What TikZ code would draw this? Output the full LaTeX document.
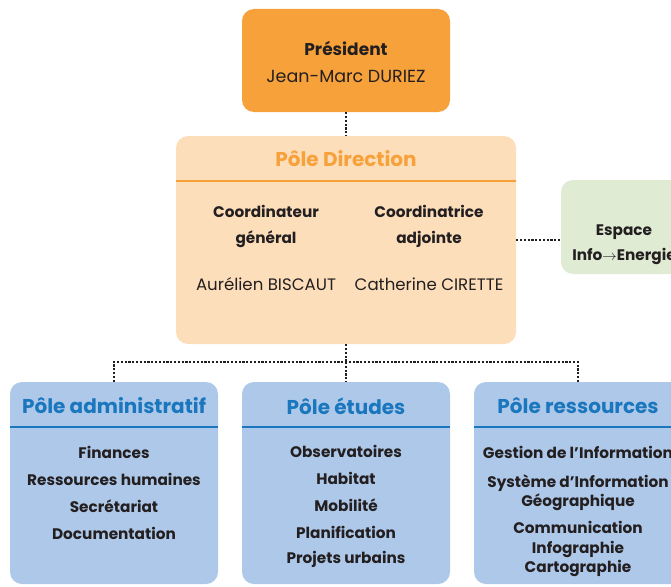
\documentclass[tikz,border=0pt]{standalone}
\usepackage{fontspec}
\setmainfont{Poppins}
\usetikzlibrary{calc}
\definecolor{presorange}{HTML}{F7A13B}
\definecolor{dirfill}{HTML}{FDDEBB}
\definecolor{polefill}{HTML}{AEC8E9}
\definecolor{poleblue}{HTML}{1B77BD}
\definecolor{espfill}{HTML}{DFEBD2}
\definecolor{txtdark}{HTML}{231F20}
\newcommand{\itemline}[4]{\node[font=\fontsize{15.3}{19.5}\selectfont\bfseries, text=txtdark, align=center] (#1) at ( #2 , #3 ) {#4};}
\newcommand{\poletitle}[5]{\node[font=\fontsize{20}{20}\selectfont\bfseries, text=#4] (#1) at ( #2 , #3 ) {#5};}
\tikzset{
  orgbox/.style={rounded corners=12pt, inner sep=0pt, draw=none},
  link/.style={line width=2.4pt, dash pattern=on 2.2pt off 1.6pt, txtdark},
  sepline/.style={line width=2.6pt},
  namefont/.style={font=\fontsize{16.6}{17}\selectfont, text=txtdark},
}

\begin{document}
\begin{tikzpicture}[x=1pt, y=-1pt]

        \useasboundingbox (0,0) rectangle (671,586);

        % boxes
        \node[orgbox, fill=presorange, minimum width=208, minimum height=103] (pres) at (346,60.5) {};
        \node[orgbox, fill=dirfill, minimum width=340, minimum height=208] (dir) at (346,240) {};
        \node[orgbox, fill=espfill, minimum width=126, minimum height=94] (esp) at (624,227) {};
        \node[orgbox, fill=polefill, minimum width=208, minimum height=202] (adm) at (114,483) {};
        \node[orgbox, fill=polefill, minimum width=208, minimum height=202] (etu) at (346,483) {};
        \node[orgbox, fill=polefill, minimum width=208, minimum height=202] (res) at (578,483) {};

        % title lines
        \draw[sepline, presorange] ($(dir.west)+(0,-59)$) -- ($(dir.east)+(0,-59)$);
        \draw[sepline, poleblue] ($(adm.west)+(0,-56)$) -- ($(adm.east)+(0,-56)$);
        \draw[sepline, poleblue] ($(etu.west)+(0,-56)$) -- ($(etu.east)+(0,-56)$);
        \draw[sepline, poleblue] ($(res.west)+(0,-56)$) -- ($(res.east)+(0,-56)$);

        % links
        \coordinate (hub) at (346,362);
        \draw[link] (pres.south) -- (dir.north);
        \draw[link] (dir.east) -- (dir.east -| esp.west);
        \draw[link] (dir.south) -- (hub);
        \draw[link] (hub) -- (etu.north);
        \draw[link] (adm.north) |- (hub) -| (res.north);

        % president
        \node[font=\fontsize{17}{17}\selectfont\bfseries, text=txtdark] (prestitle) at (346,48) {Président};
        \node[namefont, font=\fontsize{17.5}{17}\selectfont] (presname) at (346,76) {Jean-Marc DURIEZ};

        % direction
        \poletitle{dirtitle}{346}{158.5}{presorange}{Pôle Direction}
        \itemline{coordgen}{266}{226}{Coordinateur\\[6.5pt]général}
        \itemline{coordadj}{429}{226}{Coordinatrice\\[6.5pt]adjointe}
        \node[namefont] (coordgenname) at (266,284) {Aurélien BISCAUT};
        \node[namefont] (coordadjname) at (429,284) {Catherine CIRETTE};

        % espace
        \itemline{espace}{624}{244.5}{Espace\\[5pt]Info$\rightarrow$Energie}

        % poles
        \poletitle{admtitle}{114}{406}{poleblue}{Pôle administratif}
        \poletitle{etutitle}{346}{406}{poleblue}{Pôle études}
        \poletitle{restitle}{578}{406}{poleblue}{Pôle ressources}

        \itemline{adm1}{114}{452}{Finances}
        \itemline{adm2}{114}{479}{Ressources humaines}
        \itemline{adm3}{114}{506}{Secrétariat}
        \itemline{adm4}{114}{533}{Documentation}

        \itemline{etu1}{346}{451}{Observatoires}
        \itemline{etu2}{346}{478}{Habitat}
        \itemline{etu3}{346}{505}{Mobilité}
        \itemline{etu4}{346}{532}{Planification}
        \itemline{etu5}{346}{559}{Projets urbains}

        \itemline{res1}{578}{452}{Gestion de l’Information}
        \itemline{res2}{578}{492.5}{Système d’Information\\[-1pt]Géographique}
        \itemline{res3}{578}{549}{Communication\\Infographie\\Cartographie}

\end{tikzpicture}
\end{document}
